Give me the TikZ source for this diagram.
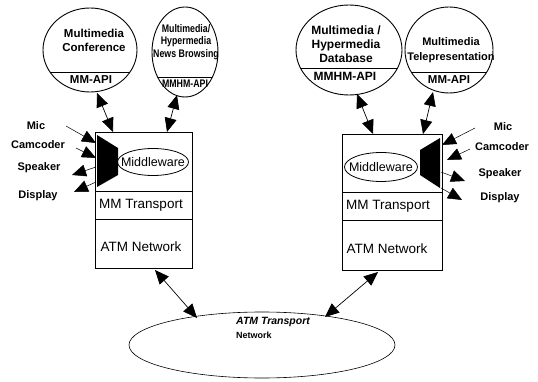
\documentclass[tikz,border=0pt]{standalone}
\usepackage{fontspec}
\setmainfont{Liberation Sans}
\newfontfamily\narrowsans{Liberation Sans}[FakeStretch=0.8]
\usetikzlibrary{arrows.meta,shapes.geometric}
\tikzset{
  bub/.style={draw,ellipse,line width=0.9pt,inner sep=0pt},
  chord/.style={path picture={\draw[line width=0.8pt] ([yshift=-#1]path picture bounding box.west) -- ([yshift=-#1]path picture bounding box.east);}},
  ctext/.style={font=\bfseries\fontsize{11.5}{13}\selectfont,inner sep=0pt,align=center},
  stext/.style={font=\narrowsans\bfseries\fontsize{11}{12.5}\selectfont,inner sep=0pt,align=center},
  dtext/.style={font=\bfseries\fontsize{11}{12}\selectfont,inner sep=0pt},
  btext/.style={font=\fontsize{13.5}{15}\selectfont,inner sep=0pt},
  stackbox/.style={draw,line width=0.9pt,inner sep=0pt,anchor=north west},
  mwring/.style={draw,ellipse,line width=0.8pt,inner sep=0pt},
  mwtext/.style={font=\fontsize{12.5}{14}\selectfont,inner sep=0pt},
  headend/.style={-{Triangle[length=14pt,width=12pt]},line width=0.5pt},
  headboth/.style={{Triangle[length=14pt,width=12pt]}-{Triangle[length=14pt,width=12pt]},line width=0.7pt}
}
\begin{document}
\begin{tikzpicture}[x=1pt,y=-1pt]
\useasboundingbox (0,0) rectangle (538,382);

% application bubbles
\node[bub,chord=22pt,minimum width=94pt,minimum height=84pt] (c1) at (90,50) {};
\node[ctext] (c1a) at (94,40) {Multimedia\\[1pt]Conference};
\node[ctext] (c1b) at (91,80) {MM-API};

\node[bub,chord=25pt,minimum width=66pt,minimum height=90pt] (c2) at (185,52) {};
\node[stext] (c2a) at (186,42) {Multimedia/\\Hypermedia\\News Browsing};
\node[stext] (c2b) at (185,84) {MMHM-API};

\node[bub,chord=18pt,minimum width=106pt,minimum height=90pt] (c3) at (349,50) {};
\node[ctext,font=\bfseries\fontsize{12}{14}\selectfont] (c3a) at (346,44) {Multimedia /\\Hypermedia\\Database};
\node[ctext,font=\bfseries\fontsize{12}{14}\selectfont] (c3b) at (345,76) {MMHM-API};

\node[bub,chord=22pt,minimum width=88pt,minimum height=86pt] (c4) at (449,50) {};
\node[ctext,font=\bfseries\fontsize{11}{12}\selectfont] (c4a) at (451,50) {Multimedia\\[3pt]Telepresentation};
\node[ctext] (c4b) at (449,80) {MM-API};

% left stack
\node[stackbox,minimum width=97pt,minimum height=59pt] (l1) at (95,132) {};
\node[stackbox,minimum width=97pt,minimum height=28pt] (l2) at (95,191) {};
\node[stackbox,minimum width=97pt,minimum height=49pt] (l3) at (95,219) {};
\node[mwring,minimum width=71pt,minimum height=27pt] (lm) at (153,162) {};
\node[mwtext] (lmt) at (153,162) {Middleware};
\node[btext] (l2t) at (141,205) {MM Transport};
\node[btext] (l3t) at (141,247) {ATM Network};
\fill (97,135) -- (118,148) -- (118,175) -- (97,187) -- cycle;

% right stack
\node[stackbox,minimum width=100pt,minimum height=58pt] (r1) at (342,134) {};
\node[stackbox,minimum width=100pt,minimum height=28pt] (r2) at (342,192) {};
\node[stackbox,minimum width=100pt,minimum height=50pt] (r3) at (342,220) {};
\node[mwring,minimum width=73pt,minimum height=29pt] (rm) at (381,167) {};
\node[mwtext] (rmt) at (381,167) {Middleware};
\node[btext] (r2t) at (388,206) {MM Transport};
\node[btext] (r3t) at (387,249) {ATM Network};
\fill (440,138) -- (420,150) -- (420,175) -- (440,188) -- cycle;

% transport network
\node[draw,ellipse,line width=0.6pt,minimum width=266pt,minimum height=66pt] (net) at (262,345) {};
\node[font=\bfseries\itshape\fontsize{10.5}{12}\selectfont,inner sep=0pt,anchor=west] (net1) at (236,322) {ATM Transport};
\node[font=\bfseries\fontsize{9}{10}\selectfont,inner sep=0pt,anchor=west] (net2) at (236,335) {Network};

% device labels
\node[dtext] (lmic) at (36,126) {Mic};
\node[dtext] (lcam) at (38,145) {Camcoder};
\node[dtext] (lspk) at (39,168) {Speaker};
\node[dtext] (ldis) at (38,196) {Display};
\node[dtext] (rmic) at (503,127) {Mic};
\node[dtext] (rcam) at (502,147) {Camcoder};
\node[dtext] (rspk) at (500,174) {Speaker};
\node[dtext] (rdis) at (500,198) {Display};

% connector end points
\coordinate (a1) at (97,93);   \coordinate (b1) at (113,132);
\coordinate (a2) at (177,95);  \coordinate (b2) at (167,132);
\coordinate (a3) at (357,94);  \coordinate (b3) at (373,134);
\coordinate (a4) at (433,92);  \coordinate (b4) at (423,134);
\coordinate (a5) at (155,270); \coordinate (b5) at (197,318);
\coordinate (a6) at (378,272); \coordinate (b6) at (325,317);

\draw[headboth] (a1) -- (b1);
\draw[headboth] (a2) -- (b2);
\draw[headboth] (a3) -- (b3);
\draw[headboth] (a4) -- (b4);
\draw[headboth] (a5) -- (b5);
\draw[headboth] (a6) -- (b6);

% device arrows left
\coordinate (m1) at (66,126);  \coordinate (m2) at (96,143);
\coordinate (k1) at (76,148);  \coordinate (k2) at (96,158);
\coordinate (s1) at (96,167);  \coordinate (s2) at (72,175);
\coordinate (d1) at (96,182);  \coordinate (d2) at (74,192);
\draw[headend] (m1) -- (m2);
\draw[headend] (k1) -- (k2);
\draw[headend] (s1) -- (s2);
\draw[headend] (d1) -- (d2);

% device arrows right
\coordinate (m3) at (475,128); \coordinate (m4) at (442,145);
\coordinate (k3) at (470,149); \coordinate (k4) at (447,160);
\coordinate (s3) at (441,172); \coordinate (s4) at (465,181);
\coordinate (d3) at (441,188); \coordinate (d4) at (462,200);
\draw[headend] (m3) -- (m4);
\draw[headend] (k3) -- (k4);
\draw[headend] (s3) -- (s4);
\draw[headend] (d3) -- (d4);
\end{tikzpicture}
\end{document}
